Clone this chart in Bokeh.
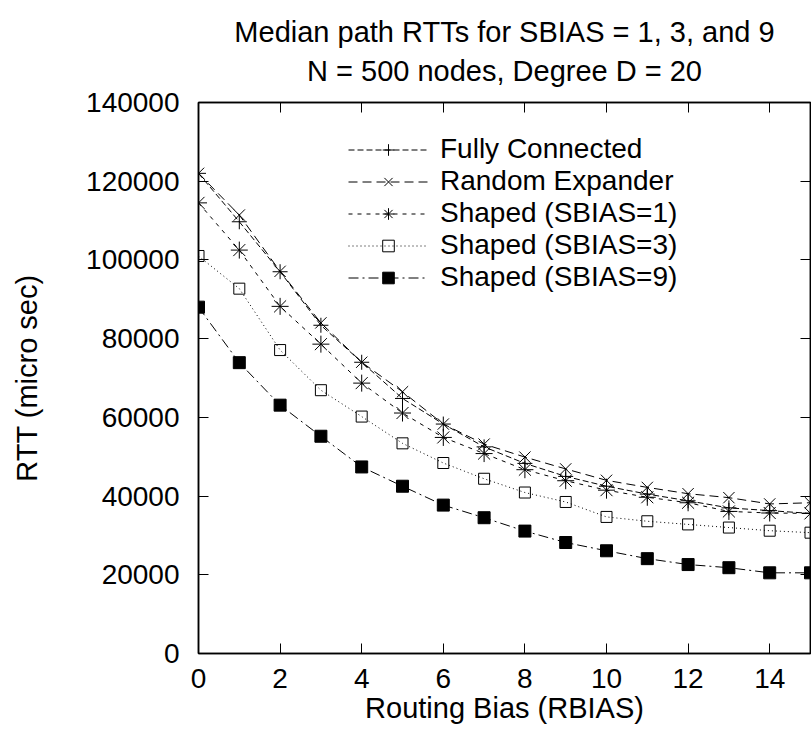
from bokeh.plotting import figure
from bokeh.models import (Range1d, FixedTicker, BasicTickFormatter, LinearAxis,
                          Title, Legend, LegendItem)
from bokeh.embed import file_html
from bokeh.resources import INLINE

# ---- data ----
rbias = list(range(16))
fully_connected = [122000, 109700, 97000, 83400, 74000, 64800, 58300, 52500,
                   48300, 45000, 42500, 40500, 38800, 37000, 36300, 35600]
random_expander = [122000, 111400, 97100, 84000, 74000, 66500, 58300, 53200,
                   49900, 46900, 44000, 42200, 40600, 39600, 38000, 38300]
shaped_sbias1 = [114500, 102500, 88200, 78600, 68700, 61100, 54900, 50800,
                 46700, 43900, 41500, 39700, 38300, 36100, 35700, 35600]
shaped_sbias3 = [101000, 92700, 77100, 66900, 60200, 53400, 48400, 44400,
                 40900, 38500, 34700, 33600, 32800, 32000, 31200, 30700]
shaped_sbias9 = [88000, 73900, 63100, 55200, 47400, 42500, 37700, 34500,
                 31100, 28200, 26100, 24100, 22600, 21800, 20500, 20500]

series_names = ["Fully Connected", "Random Expander", "Shaped (SBIAS=1)",
                "Shaped (SBIAS=3)", "Shaped (SBIAS=9)"]
x_ticks = [0, 2, 4, 6, 8, 10, 12, 14]
y_ticks = [0, 20000, 40000, 60000, 80000, 100000, 120000, 140000]
title_lines = ["Median path RTTs for SBIAS = 1, 3, and 9",
               "N = 500 nodes, Degree D = 20"]

FONT = "Liberation Sans"
FS = "28px"
FS_BIG = "29px"

p = figure(width=811, height=730,
           min_border_left=198, min_border_right=1,
           min_border_top=102, min_border_bottom=77,
           x_range=Range1d(0, 15), y_range=Range1d(0, 140000),
           output_backend="svg", toolbar_location=None)
p.xgrid.visible = False
p.ygrid.visible = False
p.outline_line_color = "black"
p.outline_line_width = 1.5
p.background_fill_color = "white"
p.border_fill_color = "white"


def style_axis(ax, show_labels):
    ax.axis_line_color = "black"
    ax.axis_line_width = 1.5
    ax.major_tick_in = 10
    ax.major_tick_out = 0
    ax.minor_tick_in = 0
    ax.minor_tick_out = 0
    ax.major_tick_line_color = "black"
    ax.major_tick_line_width = 1
    ax.major_label_text_font = FONT
    ax.major_label_text_color = "black"
    if show_labels:
        ax.major_label_text_font_size = FS
    else:
        ax.major_label_text_font_size = "0px"
        ax.major_label_standoff = 0


xt = FixedTicker(ticks=x_ticks)
yt = FixedTicker(ticks=y_ticks)
fmt = BasicTickFormatter(use_scientific=False)

xa = p.xaxis[0]
xa.ticker = xt
style_axis(xa, True)
xa.major_label_standoff = 15
xa.axis_label = "Routing Bias (RBIAS)"
xa.axis_label_text_font = FONT
xa.axis_label_text_font_size = FS_BIG
xa.axis_label_text_font_style = "normal"
xa.axis_label_text_color = "black"
xa.axis_label_standoff = 1

ya = p.yaxis[0]
ya.ticker = yt
ya.formatter = fmt
style_axis(ya, True)
ya.major_label_standoff = 19
ya.axis_label = "RTT (micro sec)"
ya.axis_label_text_font = FONT
ya.axis_label_text_font_size = FS_BIG
ya.axis_label_text_font_style = "normal"
ya.axis_label_text_color = "black"
ya.axis_label_standoff = 40

top_ax = LinearAxis(ticker=FixedTicker(ticks=x_ticks))
style_axis(top_ax, False)
p.add_layout(top_ax, "above")
right_ax = LinearAxis(ticker=FixedTicker(ticks=y_ticks))
style_axis(right_ax, False)
p.add_layout(right_ax, "right")

# small spacer between the frame and the title block
p.add_layout(Title(text=" ", text_font_size="1px", standoff=7), "above")
# second line nearest the frame, first line above it
p.add_layout(Title(text=title_lines[1], text_font=FONT,
                   text_font_size=FS_BIG, text_font_style="normal", text_color="black",
                   align="center", standoff=11), "above")
p.add_layout(Title(text=title_lines[0], text_font=FONT,
                   text_font_size=FS_BIG, text_font_style="normal", text_color="black",
                   align="center", standoff=0), "above")

data = [fully_connected, random_expander, shaped_sbias1, shaped_sbias3, shaped_sbias9]
dashes = ["6 3", "9 5", "4 5", "1 3", "10 4 2 4"]
markers = ["cross", "x", "asterisk", "square", "square"]
sizes = [15, 16, 17, 11, 12]
fills = ["black", "black", "black", None, "black"]

items = []
for name, ys, dash, mk, sz, fc in zip(series_names, data, dashes, markers, sizes, fills):
    ln = p.line(rbias, ys, line_color="black", line_width=1, line_dash=dash)
    sc = p.scatter(rbias, ys, marker=mk, size=sz, line_color="black",
                   line_width=1, fill_color=fc if fc else "white",
                   fill_alpha=1.0 if fc else 0.0)
    items.append(LegendItem(label=name, renderers=[ln, sc]))

legend = Legend(items=items, location=(150, 360), orientation="vertical",
                label_text_font=FONT, label_text_font_size=FS,
                label_text_line_height=1.0, label_text_color="black",
                label_height=29, glyph_height=29, glyph_width=80,
                label_standoff=12, spacing=0, padding=0, margin=0,
                border_line_color=None, background_fill_alpha=0)
p.add_layout(legend)

open("out.html", "w").write(file_html(p, INLINE))
